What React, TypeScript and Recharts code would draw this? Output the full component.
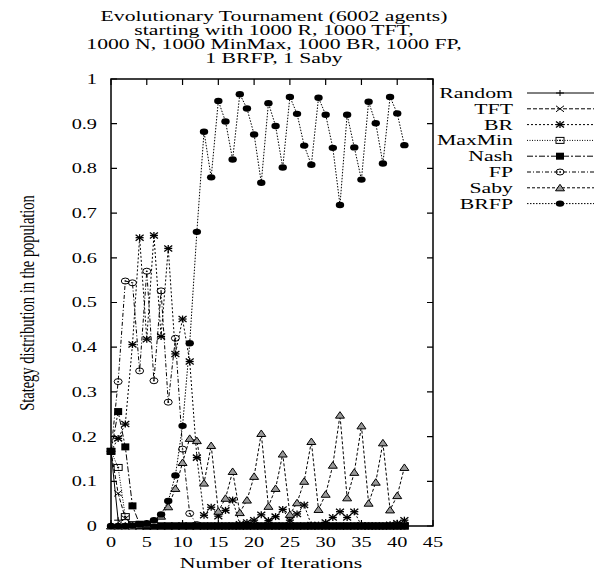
import React from "react";
import { LineChart, Line, XAxis, YAxis, Legend } from "recharts";

const ITERATIONS = [
  0, 1, 2, 3, 4, 5, 6, 7, 8, 9, 10, 11, 12, 13, 14, 15, 16, 17, 18, 19, 20,
  21, 22, 23, 24, 25, 26, 27, 28, 29, 30, 31, 32, 33, 34, 35, 36, 37, 38, 39, 40, 41,
];

const RANDOM = [
  0.167, 0.013, 0, 0, 0, 0, 0, 0, 0, 0, 0, 0, 0, 0, 0, 0, 0, 0, 0, 0, 0,
  0, 0, 0, 0, 0, 0, 0, 0, 0, 0, 0, 0, 0, 0, 0, 0, 0, 0, 0, 0, 0,
];
const TFT = [
  0.167, 0.073, 0.017, 0.002, 0, 0, 0, 0, 0, 0, 0, 0, 0, 0, 0, 0, 0, 0, 0, 0, 0,
  0, 0, 0, 0, 0, 0, 0, 0, 0, 0, 0, 0, 0, 0, 0, 0, 0, 0, 0, 0, 0,
];
const BR = [
  0.167, 0.196, 0.228, 0.406, 0.645, 0.418, 0.65, 0.424, 0.621, 0.385, 0.463,
  0.368, 0.153, 0.024, 0.042, 0.022, 0.035, 0.058, 0.004, 0.008, 0.013,
  0.025, 0.012, 0.021, 0.037, 0.013, 0.027, 0.047, 0.002, 0.002, 0.008,
  0.019, 0.032, 0.019, 0.032, 0.001, 0, 0, 0, 0.003, 0.006, 0.013,
];
const MAXMIN = [
  0.167, 0.131, 0.021, 0.003, 0, 0, 0, 0, 0, 0, 0, 0, 0, 0, 0, 0, 0, 0, 0, 0, 0,
  0, 0, 0, 0, 0, 0, 0, 0, 0, 0, 0, 0, 0, 0, 0, 0, 0, 0, 0, 0, 0,
];
const NASH = [
  0.167, 0.256, 0.177, 0.045, 0.004, 0, 0, 0, 0, 0, 0, 0, 0, 0, 0, 0, 0, 0, 0, 0, 0,
  0, 0, 0, 0, 0, 0, 0, 0, 0, 0, 0, 0, 0, 0, 0, 0, 0, 0, 0, 0, 0,
];
const FP = [
  0.167, 0.323, 0.548, 0.544, 0.347, 0.57, 0.325, 0.526, 0.277, 0.42, 0.172,
  0.028, 0.003, 0, 0, 0, 0, 0, 0, 0, 0,
  0, 0, 0, 0, 0, 0, 0, 0, 0, 0, 0, 0, 0, 0, 0, 0, 0, 0, 0, 0, 0,
];
const SABY = [
  0, 0, 0, 0, 0.001, 0.003, 0.01, 0.022, 0.043, 0.084, 0.142, 0.196, 0.191,
  0.096, 0.18, 0.033, 0.062, 0.122, 0.03, 0.058, 0.111, 0.207, 0.044, 0.084,
  0.161, 0.026, 0.052, 0.1, 0.189, 0.037, 0.071, 0.136, 0.248, 0.063, 0.12,
  0.224, 0.051, 0.098, 0.186, 0.036, 0.068, 0.131,
];
const BRFP = [
  0, 0, 0, 0.001, 0.003, 0.006, 0.013, 0.026, 0.056, 0.113, 0.224, 0.409,
  0.658, 0.882, 0.78, 0.951, 0.905, 0.82, 0.966, 0.934, 0.876, 0.768, 0.946,
  0.895, 0.802, 0.96, 0.922, 0.851, 0.808, 0.958, 0.92, 0.846, 0.718, 0.92,
  0.847, 0.775, 0.949, 0.901, 0.811, 0.96, 0.923, 0.852,
];

const SERIES_NAMES = ["Random", "TFT", "BR", "MaxMin", "Nash", "FP", "Saby", "BRFP"];
const SERIES_VALUES = [RANDOM, TFT, BR, MAXMIN, NASH, FP, SABY, BRFP];

const X_TICKS = [0, 5, 10, 15, 20, 25, 30, 35, 40, 45];
const Y_TICKS = [0, 0.1, 0.2, 0.3, 0.4, 0.5, 0.6, 0.7, 0.8, 0.9, 1];

const TITLE_LINES = [
  "Evolutionary Tournament (6002 agents)",
  "starting with 1000 R, 1000 TFT,",
  "1000 N, 1000 MinMax, 1000 BR, 1000 FP,",
  "1 BRFP, 1 Saby",
];
const X_LABEL = "Number of Iterations";
const Y_LABEL = "Stategy distribution in the population";

// the original postscript text is stretched sideways
const SX = 1.45;
const FONT = "'Liberation Serif', 'Times New Roman', serif";
// plot box edges (px)
const BOX = { left: 111, right: 433, top: 79, bottom: 526 };
const TICK = 6;

const STYLE: Record<string, { dash?: string; marker: string }> = {
  Random: { marker: "plus" },
  TFT: { dash: "4 2", marker: "cross" },
  BR: { dash: "2 2", marker: "star" },
  MaxMin: { dash: "1 1.5", marker: "box" },
  Nash: { dash: "6 2 2 2", marker: "fbox" },
  FP: { dash: "4 2 1 2", marker: "circle" },
  Saby: { dash: "3 2", marker: "tri" },
  BRFP: { dash: "1.5 1.5", marker: "dot" },
};

const data = ITERATIONS.map((it, i) => {
  const row: Record<string, number> = { it };
  SERIES_NAMES.forEach((name, s) => {
    row[name] = SERIES_VALUES[s][i];
  });
  return row;
});

function StretchText({ x, y, anchor, size, sx = SX, children }: any) {
  return (
    <text
      transform={`scale(${sx},1)`}
      x={x / sx}
      y={y}
      textAnchor={anchor}
      fontFamily={FONT}
      fontSize={size}
      fill="#000"
    >
      {children}
    </text>
  );
}

function Marker({ kind, cx, cy }: { kind: string; cx?: number; cy?: number }) {
  if (cx == null || cy == null) return null;
  switch (kind) {
    case "plus":
      return (
        <g stroke="#000" strokeWidth={1}>
          <line x1={cx - 4} y1={cy} x2={cx + 4} y2={cy} />
          <line x1={cx} y1={cy - 3} x2={cx} y2={cy + 3} />
        </g>
      );
    case "cross":
      return (
        <g stroke="#000" strokeWidth={1}>
          <line x1={cx - 4} y1={cy - 3} x2={cx + 4} y2={cy + 3} />
          <line x1={cx - 4} y1={cy + 3} x2={cx + 4} y2={cy - 3} />
        </g>
      );
    case "star":
      return (
        <g stroke="#000" strokeWidth={1.3}>
          <line x1={cx - 4} y1={cy - 3} x2={cx + 4} y2={cy + 3} />
          <line x1={cx - 4} y1={cy + 3} x2={cx + 4} y2={cy - 3} />
          <line x1={cx} y1={cy - 3.5} x2={cx} y2={cy + 3.5} />
          <line x1={cx - 4} y1={cy} x2={cx + 4} y2={cy} />
        </g>
      );
    case "box":
      return (
        <g>
          <rect x={cx - 4} y={cy - 3} width={8} height={6} fill="none" stroke="#000" strokeWidth={1} />
          <rect x={cx - 1} y={cy - 0.7} width={2} height={1.4} fill="#000" />
        </g>
      );
    case "fbox":
      return <rect x={cx - 4} y={cy - 3.5} width={8} height={7} fill="#000" />;
    case "circle":
      return (
        <g>
          <ellipse cx={cx} cy={cy} rx={4} ry={3} fill="none" stroke="#000" strokeWidth={1} />
          <ellipse cx={cx} cy={cy} rx={1} ry={0.7} fill="#000" />
        </g>
      );
    case "tri":
      return (
        <polygon
          points={`${cx - 4.5},${cy + 3} ${cx + 4.5},${cy + 3} ${cx},${cy - 3.5}`}
          fill="#999"
          stroke="#000"
          strokeWidth={1}
        />
      );
    case "dot":
      return <ellipse cx={cx} cy={cy} rx={4.2} ry={3.2} fill="#000" />;
    default:
      return null;
  }
}

const XTick = ({ x, payload }: any) => (
  <StretchText x={x} y={547} anchor="middle" size={14}>
    {payload.value}
  </StretchText>
);

const YTick = ({ y, payload }: any) => (
  <StretchText x={97} y={y + 5} anchor="end" size={14}>
    {payload.value}
  </StretchText>
);

const XLabel = () => (
  <StretchText x={271} y={568} anchor="middle" size={15}>
    {X_LABEL}
  </StretchText>
);

const YLabel = () => (
  <text
    transform={`translate(27,303) scale(${SX},1) rotate(-90)`}
    textAnchor="middle"
    dominantBaseline="central"
    fontFamily={FONT}
    fontSize={14.5}
    fill="#000"
  >
    {Y_LABEL}
  </text>
);

// frame with inward ticks on all four sides, placed at the axis tick values
function Frame() {
  const px = (v: number) => BOX.left + ((BOX.right - BOX.left) * v) / 45;
  const py = (v: number) => BOX.bottom - (BOX.bottom - BOX.top) * v;
  let d = "";
  X_TICKS.forEach((t) => {
    const x = px(t);
    d += `M${x},${BOX.bottom}V${BOX.bottom - TICK}M${x},${BOX.top}V${BOX.top + TICK}`;
  });
  Y_TICKS.forEach((t) => {
    const y = py(t);
    d += `M${BOX.left},${y}H${BOX.left + TICK}M${BOX.right},${y}H${BOX.right - TICK}`;
  });
  return (
    <g stroke="#000" strokeWidth={1.5} fill="none">
      <rect x={BOX.left} y={BOX.top} width={BOX.right - BOX.left} height={BOX.bottom - BOX.top} />
      <path d={d} strokeWidth={1.2} />
    </g>
  );
}

function renderLegend() {
  return (
    <svg width={598} height={571}>
      <Frame />
      {SERIES_NAMES.map((name, i) => {
        const y = 93 + i * 15.8;
        return (
          <g key={name}>
            <StretchText x={513} y={y + 5} anchor="end" size={15}>
              {name}
            </StretchText>
            <line
              x1={527}
              x2={594}
              y1={y}
              y2={y}
              stroke="#000"
              strokeWidth={1}
              strokeDasharray={STYLE[name].dash}
            />
            <Marker kind={STYLE[name].marker} cx={560} cy={y} />
          </g>
        );
      })}
    </svg>
  );
}

export default function App() {
  return (
    <div style={{ position: "absolute", left: 0, top: 0, width: 598, height: 571, background: "#fff" }}>
      <svg width={598} height={75} style={{ position: "absolute", left: 0, top: 0 }}>
        {TITLE_LINES.map((line, i) => (
          <StretchText key={i} x={274} y={21 + i * 14} anchor="middle" size={14} sx={1.55}>
            {line}
          </StretchText>
        ))}
      </svg>
      <LineChart
        width={598}
        height={571}
        data={data}
        margin={{ top: BOX.top, right: 598 - BOX.right, bottom: 25, left: 51 }}
      >
        <XAxis
          dataKey="it"
          type="number"
          domain={[0, 45]}
          ticks={X_TICKS}
          height={20}
          axisLine={false}
          tickLine={false}
          tick={<XTick />}
          label={<XLabel />}
        />
        <YAxis
          type="number"
          domain={[0, 1]}
          ticks={Y_TICKS}
          width={60}
          axisLine={false}
          tickLine={false}
          tick={<YTick />}
          label={<YLabel />}
        />
        {SERIES_NAMES.map((name) => (
          <Line
            key={name}
            type="linear"
            dataKey={name}
            name={name}
            stroke="#000"
            strokeWidth={1}
            strokeDasharray={STYLE[name].dash}
            isAnimationActive={false}
            dot={(p: any) => (
              <Marker key={`${name}-${p.index}`} kind={STYLE[name].marker} cx={p.cx} cy={p.cy} />
            )}
            activeDot={false}
          />
        ))}
        <Legend
          layout="vertical"
          align="center"
          verticalAlign="middle"
          content={renderLegend}
          wrapperStyle={{ left: 0, top: 0, width: 598, height: 571, pointerEvents: "none" }}
        />
      </LineChart>
    </div>
  );
}
